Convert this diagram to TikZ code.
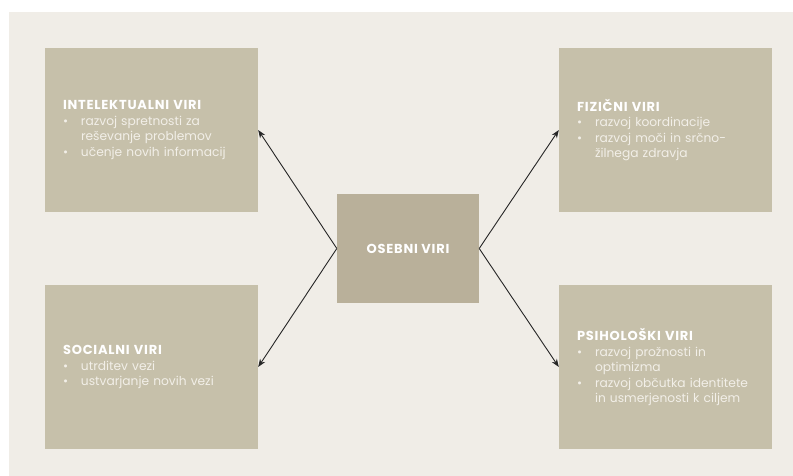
\documentclass[tikz,border=0pt]{standalone}
\usepackage{fontspec}
\setmainfont{Poppins}
\usetikzlibrary{arrows.meta}
\definecolor{pozadina}{HTML}{F0EDE7}
\definecolor{okvir}{HTML}{C6C0AA}
\definecolor{sredina}{HTML}{B9B09A}
\definecolor{besedilo}{HTML}{F2EFE8}
\newcommand{\pika}[1]{\mbox{\makebox[18pt][l]{\textbullet}#1}}
\newcommand{\zamik}[1]{\mbox{\hspace*{18pt}#1}}
\newcommand{\naslov}[1]{{\fontsize{13}{15}\selectfont\addfontfeatures{LetterSpace=6}\bfseries\textcolor{white}{#1}}}

\begin{document}
\begin{tikzpicture}[x=1pt,y=-1pt,
    vir/.style={fill=okvir,text=besedilo,minimum width=213pt,minimum height=164pt,
      text width=177pt,inner xsep=18pt,align=left,font=\fontsize{12.25}{15.5}\selectfont},
    jedro/.style={fill=sredina,text=white,minimum width=142pt,minimum height=109pt,
      font=\fontsize{13}{15}\selectfont\addfontfeatures{LetterSpace=6}\bfseries},
    puscica/.style={draw=black!85,line width=0.9pt,-{Stealth[length=8pt,width=6pt]}}]
    \useasboundingbox (0,0) rectangle (793,476);
    \fill[pozadina] (9,12) rectangle (793,476);
    \node[jedro] (osebni) at (408,248.5) {OSEBNI VIRI};
    \node[vir] (intel) at (151.5,130) {\naslov{INTELEKTUALNI VIRI}\\
      \pika{razvoj spretnosti za}\\ \zamik{reševanje problemov}\\
      \pika{učenje novih informacij}};
    \node[vir] (fiz) at (665.5,130) {\naslov{FIZIČNI VIRI}\\
      \pika{razvoj koordinacije}\\
      \pika{razvoj moči in srčno-}\\ \zamik{žilnega zdravja}};
    \node[vir] (soc) at (151.5,367) {\naslov{SOCIALNI VIRI}\\
      \pika{utrditev vezi}\\
      \pika{ustvarjanje novih vezi}};
    \node[vir] (psih) at (665.5,367) {\naslov{PSIHOLOŠKI VIRI}\\
      \pika{razvoj prožnosti in}\\ \zamik{optimizma}\\
      \pika{razvoj občutka identitete}\\ \zamik{in usmerjenosti k ciljem}};
    \draw[puscica] (osebni.west) -- (intel.east);
    \draw[puscica] (osebni.west) -- (soc.east);
    \draw[puscica] (osebni.east) -- (fiz.west);
    \draw[puscica] (osebni.east) -- (psih.west);
\end{tikzpicture}
\end{document}
